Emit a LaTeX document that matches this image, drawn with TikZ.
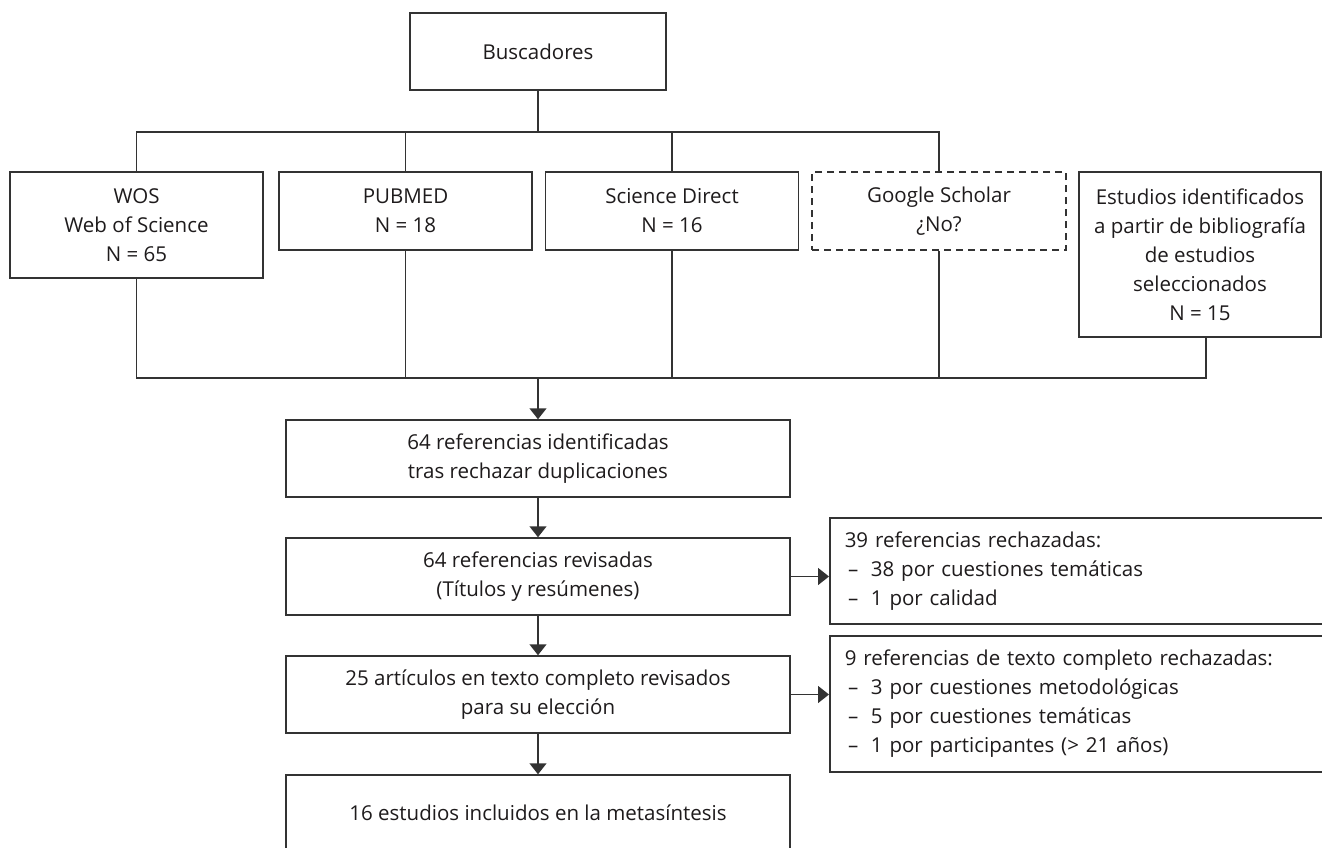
\documentclass[tikz,border=0pt]{standalone}
\usepackage{fontspec}
\setmainfont{Open Sans}
\usetikzlibrary{arrows.meta}
\definecolor{linec}{HTML}{333333}
\definecolor{textc}{HTML}{1E1B1C}
\tikzset{
  box/.style={draw=linec, line width=1.5pt, fill=white, text=textc, inner sep=0pt, align=center,
    font=\fontsize{20.5}{29}\selectfont},
  sidebox/.style={box, align=left, anchor=west, inner xsep=15pt, text width=480pt},
  conn/.style={draw=linec, line width=1.5pt},
  arr/.style={conn, -{Triangle[width=17pt,length=11pt]}},
}
\begin{document}
\begin{tikzpicture}[x=1pt,y=-1pt]
\useasboundingbox (0,0) rectangle (1322,848);
\fill[white] (0,0) rectangle (1322,848);

\node[box, minimum width=256, minimum height=77] (busc) at (538,51.5) {Buscadores};

\node[box, minimum width=253, minimum height=106] (wos) at (136.5,225) {WOS\\Web of Science\\N = 65};
\node[box, minimum width=253, minimum height=78] (pub) at (405.5,211) {PUBMED\\N = 18};
\node[box, minimum width=253, minimum height=78] (sci) at (672,211) {Science Direct\\N = 16};
\node[box, dash pattern=on 7pt off 5pt, minimum width=254, minimum height=78] (goo) at (939,211) {Google Scholar\\¿No?};
\node[box, minimum width=242, minimum height=165] (est) at (1200,254.5) {Estudios identificados\\a partir de bibliografía\\de estudios\\seleccionados\\N = 15};

\coordinate (j1) at (538,132);
\coordinate (j2) at (538,378);
\coordinate (estb) at (1206,337);

\draw[conn] (busc.south) -- (j1);
\draw[conn] (wos.north) -- (wos.north |- j1) -- (goo.north |- j1) -- (goo.north);
\draw[conn] (pub.north) -- (pub.north |- j1);
\draw[conn] (sci.north) -- (sci.north |- j1);

\draw[conn] (wos.south) -- (wos.south |- j2) -- (estb |- j2) -- (estb);
\draw[conn] (pub.south) -- (pub.south |- j2);
\draw[conn] (sci.south) -- (sci.south |- j2);
\draw[conn] (goo.south) -- (goo.south |- j2);

\node[box, minimum width=504, minimum height=77] (b1) at (538,458.5) {64 referencias identificadas\\tras rechazar duplicaciones};
\node[box, minimum width=504, minimum height=77] (b2) at (538,576.5) {64 referencias revisadas\\(Títulos y resúmenes)};
\node[box, minimum width=504, minimum height=77] (b3) at (538,694.5) {25 artículos en texto completo revisados\\para su elección};
\node[box, minimum width=504, minimum height=75] (b4) at (538,812.5) {16 estudios incluidos en la metasíntesis};

\node[sidebox, minimum height=106] (r1) at (829,571) {39 referencias rechazadas:\\\,–\; 38 por cuestiones temáticas\\\,–\; 1 por calidad};
\node[sidebox, minimum height=136] (r2) at (829,704) {9 referencias de texto completo rechazadas:\\\,–\; 3 por cuestiones metodológicas\\\,–\; 5 por cuestiones temáticas\\\,–\; 1 por participantes (> 21 años)};

\draw[arr] (j2) -- (b1.north);
\draw[arr] (b1.south) -- (b2.north);
\draw[arr] (b2.south) -- (b3.north);
\draw[arr] (b3.south) -- (b4.north);
\draw[arr] (b2.east) -- (b2.east -| r1.west);
\draw[arr] (b3.east) -- (b3.east -| r2.west);
\end{tikzpicture}
\end{document}
